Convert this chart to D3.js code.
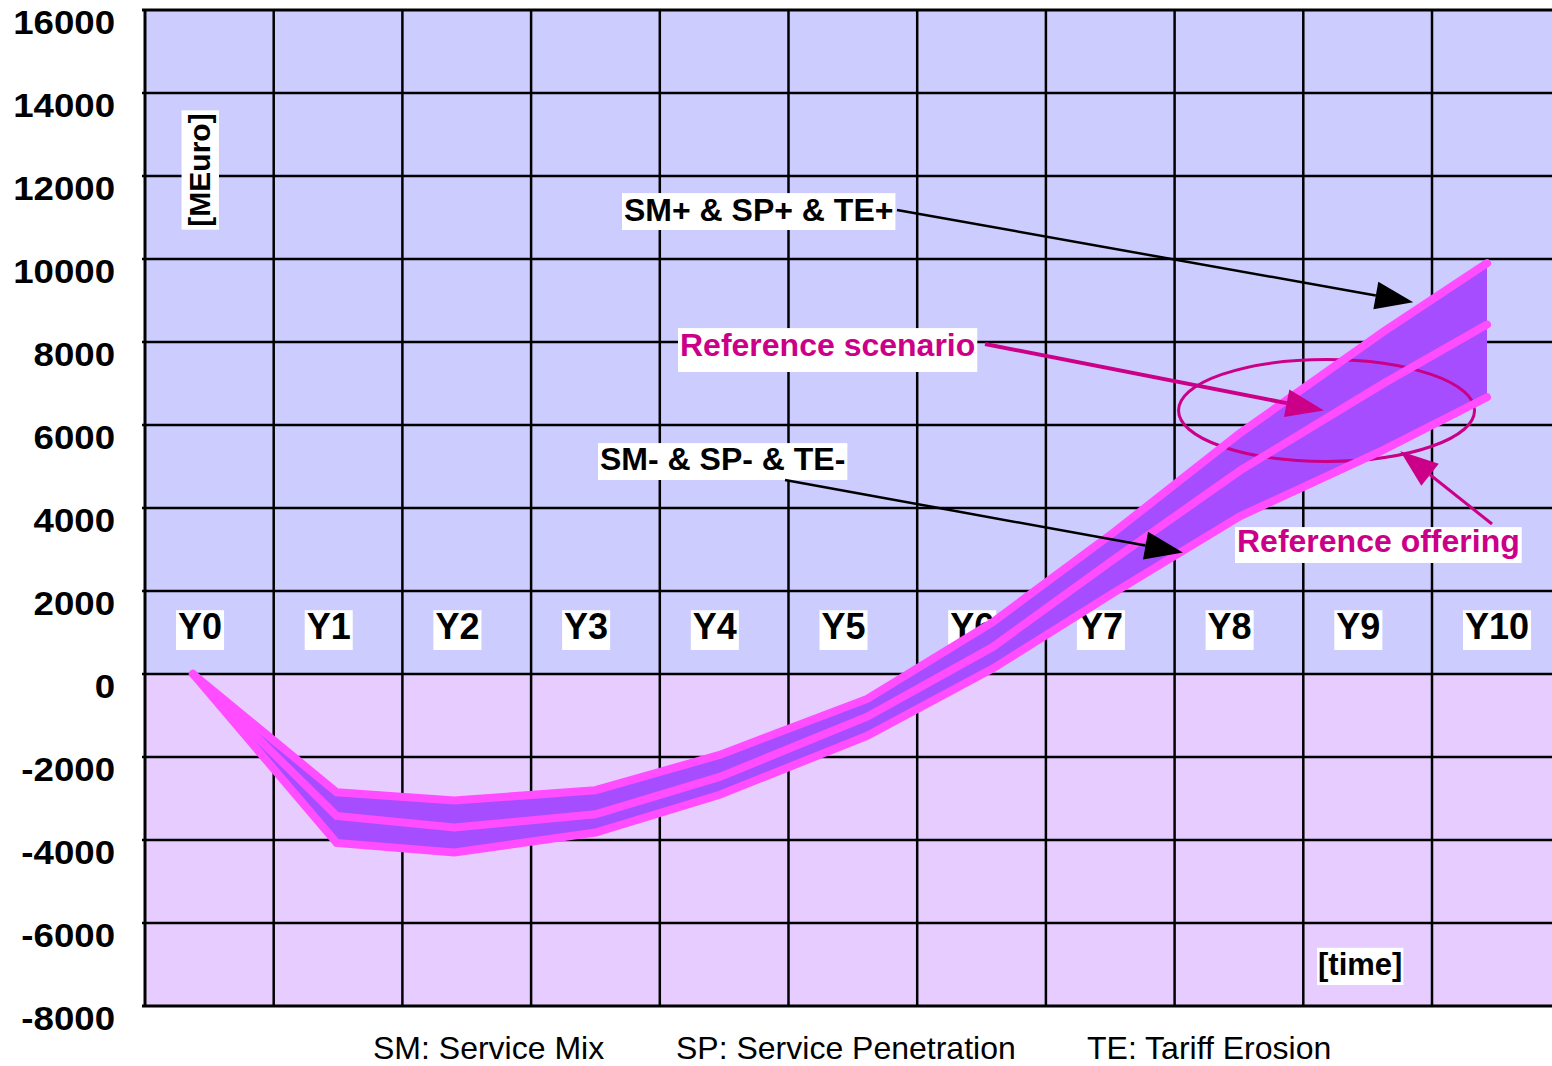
<!DOCTYPE html>
<html>
<head>
<meta charset="utf-8">
<script src="https://cdn.jsdelivr.net/npm/d3@7"></script>
<style>
  html, body { margin: 0; padding: 0; background: #fff; }
  svg { display: block; font-family: "Liberation Sans", Arial, sans-serif; }
</style>
</head>
<body>
<div id="chart"></div>
<script>
// columns / tick labels
const years = ['Y0', 'Y1', 'Y2', 'Y3', 'Y4', 'Y5', 'Y6', 'Y7', 'Y8', 'Y9', 'Y10']
// where each scenario point sits along the time axis
const period = [0, 1.11, 2.02, 3.11, 4.07, 5.21, 6.18, 7.11, 8.09, 9.2, 10]
const yTicks = [-8000, -6000, -4000, -2000, 0, 2000, 4000, 6000, 8000, 10000, 12000, 14000, 16000]

// MEuro
const upper = [0, -2850, -3050, -2800, -1950, -600, 1250, 3400, 5800, 8250, 9900]     // SM+ & SP+ & TE+
const reference = [0, -3420, -3700, -3380, -2480, -1030, 650, 2750, 4900, 7000, 8420]  // Reference scenario
const lower = [0, -4070, -4300, -3820, -2910, -1490, 130, 1950, 3800, 5400, 6670]      // SM- & SP- & TE-

const legend = ['SM: Service Mix', 'SP: Service Penetration', 'TE: Tariff Erosion']

const width = 1552
const height = 1066
const plot = { left: 145, top: 10, bottom: 1006, colStep: 128.7 }
const magenta = '#CC0088'

const svg = d3.select('#chart').append('svg')
    .attr('width', width)
    .attr('height', height)

const y = d3.scaleLinear().domain([-8000, 16000]).range([plot.bottom, plot.top])
const cols = d3.scaleBand().domain(years)
    .range([plot.left, plot.left + plot.colStep * years.length])
const x = d3.scaleLinear().domain([0, 10]).range([193, 1487])

// backgrounds
svg.append('rect')
    .attr('x', plot.left).attr('y', y(16000))
    .attr('width', width - plot.left).attr('height', y(0) - y(16000))
    .attr('fill', '#CCCCFF')
svg.append('rect')
    .attr('x', plot.left).attr('y', y(0))
    .attr('width', width - plot.left).attr('height', y(-8000) - y(0))
    .attr('fill', '#E6CCFF')

// grid
const grid = svg.append('g')
grid.selectAll('line.h')
    .data(yTicks)
    .enter()
    .append('line')
    .attr('class', 'h')
    .attr('x1', plot.left - 3).attr('x2', width)
    .attr('y1', d => y(d)).attr('y2', d => y(d))
    .attr('stroke', '#000')
    .attr('stroke-width', d => (d === 16000 || d === -8000) ? 3 : 2.5)

grid.selectAll('line.v')
    .data(years)
    .enter()
    .append('line')
    .attr('class', 'v')
    .attr('x1', d => cols(d)).attr('x2', d => cols(d))
    .attr('y1', y(16000)).attr('y2', y(-8000))
    .attr('stroke', '#000')
    .attr('stroke-width', (d, i) => i === 0 ? 3 : 2.5)

// y axis labels (plain hyphen minus, as in the original)
const yAxis = svg.append('g')
    .attr('transform', `translate(${ plot.left }, 0)`)
    .call(d3.axisLeft(y).tickValues(yTicks).tickSize(0).tickPadding(30).tickFormat(d => String(d)))
yAxis.select('.domain').remove()
yAxis.selectAll('text')
    .attr('dy', '0.7em')
    .attr('font-size', 33)
    .attr('font-weight', 'bold')
    .attr('fill', '#000')
    .attr('font-family', '"Liberation Sans", Arial, sans-serif')
    .each(function () {
        const w = this.getComputedTextLength()
        d3.select(this).attr('textLength', w * 1.11).attr('lengthAdjust', 'spacingAndGlyphs')
    })

// white-boxed text helper
function boxedText(parent, txt, tx, ty, opts) {
    const o = Object.assign({ size: 31, color: '#000', weight: 'bold', padX: 2, padTop: 5, padBottom: 8, rotate: 0, anchor: 'start' }, opts)
    const g = parent.append('g')
        .attr('transform', `translate(${ tx }, ${ ty }) rotate(${ o.rotate })`)
    const rect = g.append('rect').attr('fill', '#fff')
    const t = g.append('text')
        .attr('font-size', o.size)
        .attr('font-weight', o.weight)
        .attr('fill', o.color)
        .attr('text-anchor', o.anchor)
        .text(txt)
    const bb = t.node().getBBox()
    const capTop = -o.size * 0.716
    rect.attr('x', bb.x - o.padX)
        .attr('y', capTop - o.padTop)
        .attr('width', bb.width + o.padX * 2)
        .attr('height', -capTop + o.padTop + o.padBottom)
    return g
}

// year labels
const yearLabels = svg.append('g')
years.forEach(d => {
    boxedText(yearLabels, d, cols(d) + 33, 639, { size: 36, padX: 2, padTop: 3, padBottom: 11 })
})

// unit labels
boxedText(svg, '[MEuro]', 210, 170, { size: 30, rotate: -90, anchor: 'middle', padX: 3, padTop: 7, padBottom: 9 })
boxedText(svg, '[time]', 1318, 975, { size: 31, padX: 1, padTop: 5, padBottom: 10 })

// scenario band
const rows = period.map((p, i) => ({ p, hi: upper[i], mid: reference[i], lo: lower[i] }))

svg.append('path')
    .datum(rows)
    .attr('d', d3.area().x(d => x(d.p)).y0(d => y(d.lo)).y1(d => y(d.hi)))
    .attr('fill', '#A64DFF')

// ellipse round the reference offering
svg.append('ellipse')
    .attr('cx', x(8.76)).attr('cy', y(6350))
    .attr('rx', 148).attr('ry', 51)
    .attr('fill', 'none')
    .attr('stroke', magenta)
    .attr('stroke-width', 3)

const lineGen = key => d3.line().x(d => x(d.p)).y(d => y(d[key]))
;['hi', 'mid', 'lo'].forEach(k => {
    svg.append('path')
        .datum(rows)
        .attr('d', lineGen(k))
        .attr('fill', 'none')
        .attr('stroke', '#FF4DFF')
        .attr('stroke-width', 8)
        .attr('stroke-linejoin', 'miter')
        .attr('stroke-linecap', 'round')
})

// annotation labels
boxedText(svg, 'SM+ & SP+ & TE+', 624, 221, { size: 32, padTop: 5, padBottom: 9 })
boxedText(svg, 'Reference scenario', 680, 356, { size: 32, color: magenta, padTop: 5, padBottom: 16 })
boxedText(svg, 'SM- & SP- & TE-', 600, 470, { size: 32, padTop: 4, padBottom: 10 })
boxedText(svg, 'Reference offering', 1237, 552, { size: 32, color: magenta, padTop: 2, padBottom: 11 })

// arrows
function arrow(x1, y1, x2, y2, color, lw) {
    const ang = Math.atan2(y2 - y1, x2 - x1)
    const len = 38, half = 14
    const bx = x2 - len * Math.cos(ang), by = y2 - len * Math.sin(ang)
    const nx = -Math.sin(ang), ny = Math.cos(ang)
    const g = svg.append('g')
    g.append('line')
        .attr('x1', x1).attr('y1', y1)
        .attr('x2', bx).attr('y2', by)
        .attr('stroke', color)
        .attr('stroke-width', lw)
    g.append('path')
        .attr('d', `M${ x2 },${ y2 }L${ bx + nx * half },${ by + ny * half }L${ bx - nx * half },${ by - ny * half }Z`)
        .attr('fill', color)
}
arrow(897, 210, x(9.43), y(8960), '#000', 2.5)
arrow(985, 344, x(8.74), y(6350), magenta, 4)
arrow(785, 480, x(7.65), y(2930), '#000', 2.5)
arrow(1492, 524, x(9.33), y(5370), magenta, 3)

// footnote
const foot = svg.append('g')
    .attr('font-size', 32)
    .attr('fill', '#000')
const footX = [373, 676, 1087]
foot.selectAll('text')
    .data(legend)
    .enter()
    .append('text')
    .attr('x', (d, i) => footX[i])
    .attr('y', 1059)
    .text(d => d)
</script>
</body>
</html>
